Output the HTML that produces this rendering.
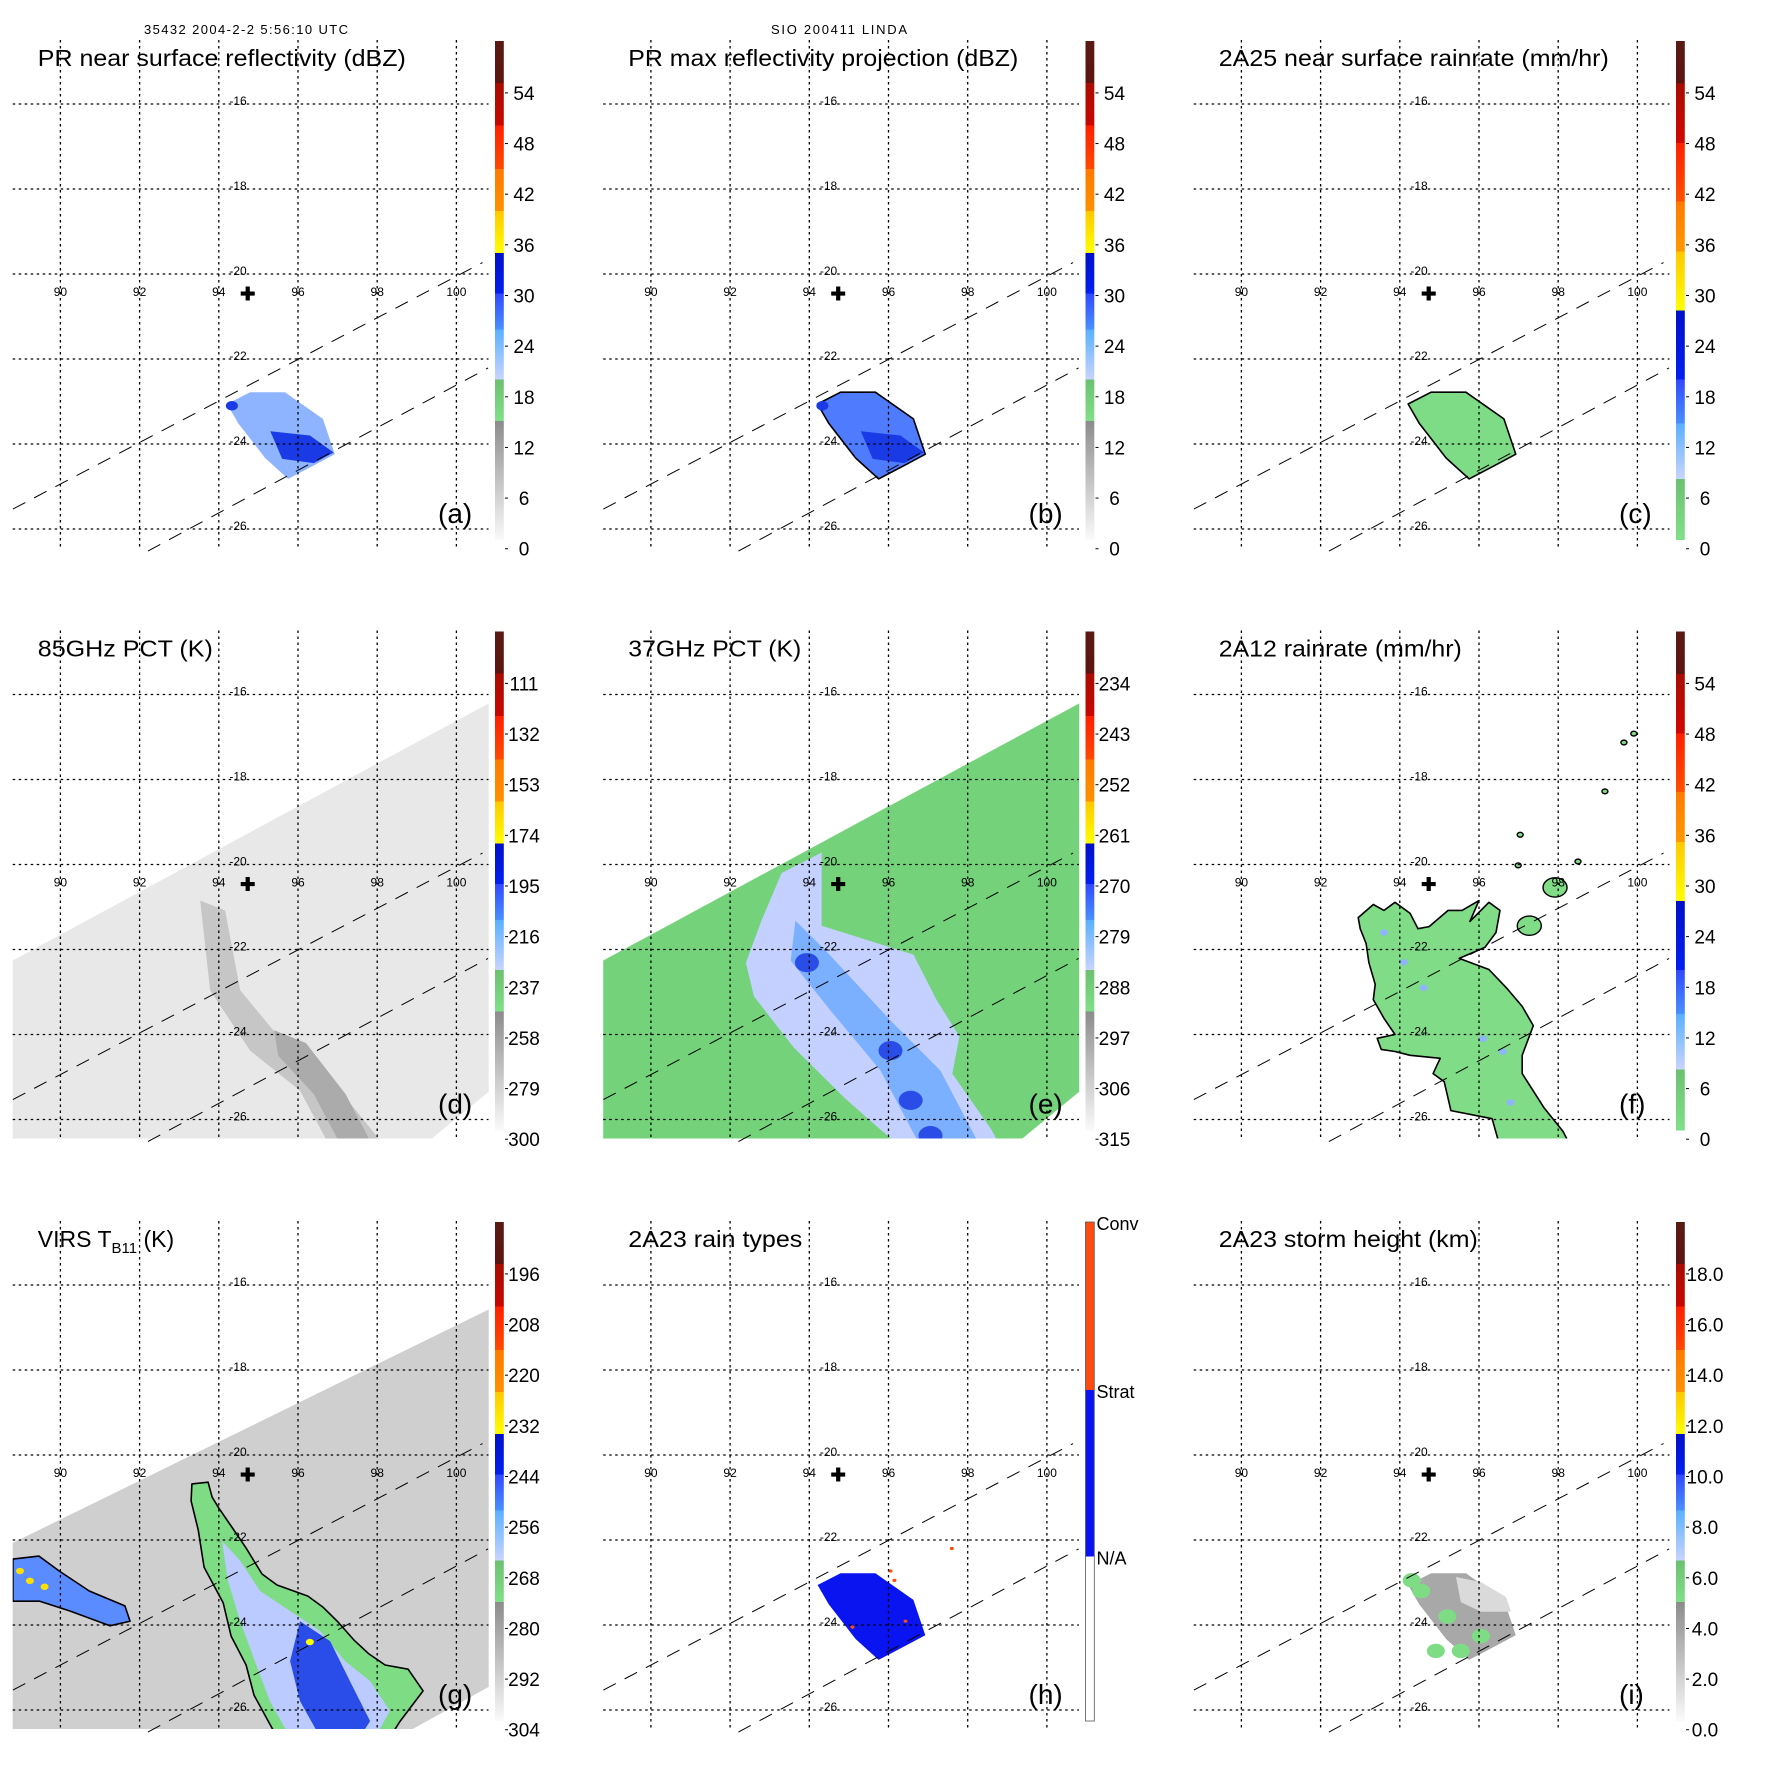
<!DOCTYPE html>
<html><head><meta charset="utf-8"><style>
html,body{margin:0;padding:0;background:#fff;}
svg{display:block;font-family:"Liberation Sans",Arial,sans-serif;}
</style></head><body>
<svg id="fig" width="1771" height="1771" viewBox="0 0 1771 1771" xmlns="http://www.w3.org/2000/svg">
<defs>
<linearGradient id="cbA" x1="0" y1="0" x2="0" y2="1">
<stop offset="0" stop-color="#5a1a14"/><stop offset="0.084" stop-color="#5c1410"/>
<stop offset="0.084" stop-color="#a80c00"/><stop offset="0.169" stop-color="#c80800"/>
<stop offset="0.169" stop-color="#ff2000"/><stop offset="0.257" stop-color="#ff4a00"/>
<stop offset="0.257" stop-color="#ff7a00"/><stop offset="0.341" stop-color="#ff9000"/>
<stop offset="0.341" stop-color="#ffc800"/><stop offset="0.425" stop-color="#ffff00"/>
<stop offset="0.425" stop-color="#0010c8"/><stop offset="0.506" stop-color="#0020f0"/>
<stop offset="0.506" stop-color="#3048ff"/><stop offset="0.578" stop-color="#4a90ff"/>
<stop offset="0.578" stop-color="#5ab0ff"/><stop offset="0.678" stop-color="#c8d4ff"/>
<stop offset="0.678" stop-color="#6cc070"/><stop offset="0.762" stop-color="#80e088"/>
<stop offset="0.762" stop-color="#8c8c8c"/><stop offset="1" stop-color="#fafafa"/>
</linearGradient>
<linearGradient id="cbC" x1="0" y1="0" x2="0" y2="1">
<stop offset="0" stop-color="#5a1a14"/><stop offset="0.085" stop-color="#5c1410"/>
<stop offset="0.085" stop-color="#a80c00"/><stop offset="0.204" stop-color="#d00800"/>
<stop offset="0.204" stop-color="#ff2000"/><stop offset="0.322" stop-color="#ff5000"/>
<stop offset="0.322" stop-color="#ff7a00"/><stop offset="0.422" stop-color="#ff9800"/>
<stop offset="0.422" stop-color="#ffc800"/><stop offset="0.54" stop-color="#ffff00"/>
<stop offset="0.54" stop-color="#0010c8"/><stop offset="0.678" stop-color="#0020f0"/>
<stop offset="0.678" stop-color="#3048ff"/><stop offset="0.767" stop-color="#4a90ff"/>
<stop offset="0.767" stop-color="#5ab0ff"/><stop offset="0.878" stop-color="#c8d4ff"/>
<stop offset="0.878" stop-color="#6cc070"/><stop offset="1" stop-color="#80e088"/>
</linearGradient>
<linearGradient id="cbH" x1="0" y1="0" x2="0" y2="1">
<stop offset="0" stop-color="#ff4a10"/><stop offset="0.337" stop-color="#ff4a10"/>
<stop offset="0.337" stop-color="#0a14f0"/><stop offset="0.67" stop-color="#0a14f0"/>
<stop offset="0.67" stop-color="#ffffff"/><stop offset="1" stop-color="#ffffff"/>
</linearGradient>
<clipPath id="plotclip"><rect x="12.7" y="40" width="476" height="508"/></clipPath>
</defs>
<text x="246" y="34" font-size="13" text-anchor="middle" textLength="204">35432 2004-2-2 5:56:10 UTC</text>
<text x="839" y="34" font-size="13" text-anchor="middle" textLength="136">SIO 200411 LINDA</text>
</svg>
<script>
// ---- axis ticks ----
const lonTicks = [90, 92, 94, 96, 98, 100];
const latTicks = [-16, -18, -20, -22, -24, -26];
// ---- colorbar labels ----
const cbLabelsA = ["54","48","42","36","30","24","18","12","6","0"];
const cbLabelsC = ["54","48","42","36","30","24","18","12","6","0"];
const cbLabelsD = ["111","132","153","174","195","216","237","258","279","300"];
const cbLabelsE = ["234","243","252","261","270","279","288","297","306","315"];
const cbLabelsG = ["196","208","220","232","244","256","268","280","292","304"];
const cbLabelsH = ["Conv","Strat","N/A"];
const cbLabelsI = ["18.0","16.0","14.0","12.0","10.0","8.0","6.0","4.0","2.0","0.0"];
// ---- map features (lon, lat) ----
const swathUpper = [[88.8,-25.53],[100.66,-19.73]];
const swathLower = [[92.21,-26.52],[100.8,-22.21]];
const stormCenter = [94.73,-20.46];
// ---- PR rain area ----
const prRain = [[94.21,-23.06],[94.79,-22.78],[95.67,-22.78],[96.63,-23.41],[96.93,-24.24],[96.43,-24.49],[95.75,-24.82],[95.17,-24.33],[94.49,-23.51]];
const prCore = [[95.3,-23.7],[96.3,-23.8],[96.9,-24.2],[96.4,-24.45],[95.6,-24.35]];
const prSpot = [[94.33,-23.1]];
// ---- 85GHz ----
const tmiSwathD = [[88.79,-22.26],[100.85,-16.19],[100.85,-25.32],[99.13,-26.64],[88.79,-26.64]];
const pct85Band = [[93.53,-20.85],[94.16,-21.08],[94.54,-22.96],[95.8,-24.38],[97.06,-25.32],[98.2,-26.64],[96.81,-26.64],[96.05,-25.32],[94.79,-24.38],[93.78,-22.96]];
const pct85Core = [[95.4,-23.9],[96.2,-24.2],[97.2,-25.4],[97.9,-26.64],[97.1,-26.64],[96.4,-25.4],[95.5,-24.5]];
// ---- 37GHz ----
const pct37Light = [[93.3,-20.2],[94.31,-19.72],[94.31,-21.44],[96.63,-22.12],[97.21,-23.18],[97.79,-24.05],[97.61,-24.92],[98.6,-26.24],[98.83,-26.64],[96.3,-26.64],[95.8,-26.24],[94.9,-25.5],[93.6,-24.3],[92.6,-23.1],[92.4,-22.31],[92.8,-21.3]];
const pct37Mid = [[93.65,-21.32],[94.41,-22.02],[96.05,-23.67],[97.31,-24.85],[98.32,-26.64],[96.81,-26.64],[95.8,-24.85],[94.54,-23.44],[93.53,-22.26]];
const pct37Dark = [[93.94,-22.31],[96.05,-24.38],[96.56,-25.55],[97.06,-26.38]];
// ---- 2A12 ----
const tmiRain = [[92.95,-21.25],[93.33,-20.94],[93.6,-21.08],[93.88,-20.89],[94.26,-21.15],[94.46,-21.51],[94.74,-21.46],[95.22,-21.08],[95.57,-21.08],[96.0,-20.85],[95.77,-21.34],[96.25,-20.89],[96.53,-21.08],[96.43,-21.6],[96.15,-21.95],[95.5,-22.21],[96.25,-22.47],[96.71,-22.92],[97.09,-23.34],[97.37,-23.79],[97.09,-24.49],[97.09,-24.92],[97.64,-25.72],[98.12,-26.28],[98.32,-26.64],[96.53,-26.64],[96.33,-25.98],[95.29,-25.79],[95.12,-25.11],[94.84,-24.92],[95.02,-24.56],[94.26,-24.49],[93.88,-24.4],[93.53,-24.35],[93.43,-24.09],[93.88,-24.0],[93.6,-23.62],[93.33,-23.18],[93.38,-22.82],[93.22,-22.31],[93.15,-21.86],[93.0,-21.51]];
const tmiIslands = [[97.92,-20.54],[97.27,-21.44]];
const tmiDots = [[99.91,-16.92],[99.66,-17.13],[99.18,-18.28],[97.04,-19.3],[96.99,-20.02],[98.5,-19.93]];
const tmiBlue = [[93.6,-21.6],[94.1,-22.3],[94.6,-22.9],[96.1,-24.1],[96.6,-24.4],[96.8,-25.6]];
// ---- VIRS ----
const virsSwath = [[88.79,-22.07],[100.85,-16.56],[100.85,-25.44],[98.58,-26.61],[88.79,-26.64]];
const virsGreen = [[93.32,-20.68],[93.73,-20.64],[93.83,-20.99],[94.0,-21.25],[94.31,-21.67],[94.69,-22.19],[95.09,-22.8],[95.47,-23.06],[96.25,-23.32],[96.63,-23.58],[97.01,-23.93],[97.41,-24.35],[97.79,-24.68],[98.2,-24.94],[98.78,-25.04],[99.16,-25.55],[98.58,-26.26],[98.32,-26.64],[95.47,-26.64],[94.89,-25.65],[94.69,-24.94],[94.31,-24.26],[94.11,-23.48],[93.63,-22.64],[93.48,-21.76],[93.3,-21.08]];
const virsLight = [[94.08,-22.02],[94.54,-22.49],[95.04,-23.2],[95.8,-23.67],[96.56,-24.14],[97.19,-24.85],[97.82,-25.32],[98.32,-26.02],[97.95,-26.64],[95.8,-26.64],[95.29,-25.79],[94.91,-24.85],[94.54,-23.91],[94.23,-22.96]];
const virsDark = [[96.05,-23.91],[96.81,-24.38],[97.31,-25.32],[97.82,-26.26],[97.56,-26.64],[96.56,-26.64],[96.05,-25.79],[95.8,-24.85]];
const virsYellow = [[96.3,-24.4]];
const virsWest = [[88.8,-22.45],[89.46,-22.38],[89.97,-22.73],[90.73,-23.2],[91.63,-23.55],[91.76,-23.91],[91.25,-24.02],[90.24,-23.67],[89.48,-23.44],[88.8,-23.44]];
const virsWestYellow = [[88.98,-22.73],[89.23,-22.96],[89.6,-23.1]];
// ---- 2A23 ----
const convDots = [[96.05,-22.73],[96.15,-22.95],[96.43,-23.91],[95.09,-24.05],[97.6,-22.2]];
const shLight = [[95.42,-22.87],[96.05,-22.99],[96.68,-23.34],[96.81,-23.69],[96.05,-23.69],[95.54,-23.46]];
const shGreen = [[94.54,-23.2],[96.05,-24.26],[95.54,-24.61],[94.91,-24.61],[94.3,-22.95],[95.2,-23.8]];

function X(lon){ return 60.4 + (lon - 90) * 39.6; }
function Y(lat){ return 104 + (-lat - 16) * 42.5; }
function pts(arr){ return arr.map(p => X(p[0]).toFixed(1) + ',' + Y(p[1]).toFixed(1)).join(' '); }

const NS = 'http://www.w3.org/2000/svg';
const svg = document.getElementById('fig');
function mk(tag, attrs, parent, text){
  const e = document.createElementNS(NS, tag);
  for (const k in attrs) e.setAttribute(k, attrs[k]);
  if (text !== undefined) e.textContent = text;
  parent.appendChild(e);
  return e;
}

const panels = [
  {key:'a', col:0,row:0, title:'PR near surface reflectivity (dBZ)', tw:368, cb:'cbA', labels:cbLabelsA},
  {key:'b', col:1,row:0, title:'PR max reflectivity projection (dBZ)', tw:390, cb:'cbA', labels:cbLabelsA},
  {key:'c', col:2,row:0, title:'2A25 near surface rainrate (mm/hr)', tw:390, cb:'cbC', labels:cbLabelsC},
  {key:'d', col:0,row:1, title:'85GHz PCT (K)', tw:175, cb:'cbA', labels:cbLabelsD},
  {key:'e', col:1,row:1, title:'37GHz PCT (K)', tw:173, cb:'cbA', labels:cbLabelsE},
  {key:'f', col:2,row:1, title:'2A12 rainrate (mm/hr)', tw:243, cb:'cbC', labels:cbLabelsC},
  {key:'g', col:0,row:2, title:'VIRS', tw:149, cb:'cbA', labels:cbLabelsG},
  {key:'h', col:1,row:2, title:'2A23 rain types', tw:174, cb:'cbH', labels:cbLabelsH},
  {key:'i', col:2,row:2, title:'2A23 storm height (km)', tw:259, cb:'cbA', labels:cbLabelsI}
];

function poly(g, arr, fill, stroke, name){
  const p = mk('polygon', {points: pts(arr), fill: fill, stroke: stroke || 'none', 'stroke-width': 1.6, 'stroke-linejoin':'round'}, g);
  
  
  return p;
}
function dot(g, p, r, fill, name, stroke){
  const c = mk('ellipse', {cx: X(p[0]), cy: Y(p[1]), rx: r, ry: r * 0.8, fill: fill, stroke: stroke || 'none', 'stroke-width': 1.4}, g);
  
  
  return c;
}

function drawData(key, g){
  if (key === 'a') {
    poly(g, prRain, '#8fb4ff', null, 'rain-area');
    poly(g, prCore, '#1a3ae6', null, 'rain-core');
    dot(g, prSpot[0], 6, '#1a3ae6', 'rain-spot');
  } else if (key === 'b') {
    poly(g, prRain, '#4f7bff', '#000', 'rain-area');
    poly(g, prCore, '#1a3ae6', null, 'rain-core');
    dot(g, prSpot[0], 6, '#1a3ae6', 'rain-spot');
  } else if (key === 'c') {
    poly(g, prRain, '#7fdc86', '#000', 'rain-area');
  } else if (key === 'd') {
    poly(g, tmiSwathD, '#e8e8e8', null, 'tmi-swath');
    poly(g, pct85Band, '#c6c6c6', null, 'pct-band');
    poly(g, pct85Core, '#ababab', null, 'pct-core');
  } else if (key === 'e') {
    poly(g, tmiSwathD, '#74d37a', null, 'tmi-swath');
    poly(g, pct37Light, '#c4d0ff', null, 'pct-light');
    poly(g, pct37Mid, '#7ab0ff', null, 'pct-mid');
    pct37Dark.forEach(p => dot(g, p, 12, '#2a4de8', 'pct-dark'));
  } else if (key === 'f') {
    poly(g, tmiRain, '#80dc86', '#000', 'rain-area');
    tmiIslands.forEach(p => dot(g, p, 12, '#80dc86', 'rain-island', '#000'));
    tmiDots.forEach(p => dot(g, p, 3, '#80dc86', 'rain-dot', '#000'));
    tmiBlue.forEach(p => dot(g, p, 4, '#8fb4ff', 'rain-heavy'));
  } else if (key === 'g') {
    poly(g, virsSwath, '#cfcfcf', null, 'virs-swath');
    poly(g, virsWest, '#5a8cff', '#000', 'cloud-west');
    virsWestYellow.forEach(p => dot(g, p, 4, '#ffe000', 'cloud-west-cold'));
    poly(g, virsGreen, '#7edc84', '#000', 'cloud-band');
    poly(g, virsLight, '#bccbff', null, 'cloud-light');
    poly(g, virsDark, '#2a4ce8', null, 'cloud-core');
    virsYellow.forEach(p => dot(g, p, 4, '#ffff00', 'cloud-top'));
  } else if (key === 'h') {
    poly(g, prRain, '#0a14f0', null, 'stratiform-area');
    convDots.forEach(p => dot(g, p, 2, '#ff4a10', 'convective-pixel'));
  } else if (key === 'i') {
    poly(g, prRain, '#a8a8a8', null, 'storm-height-area');
    poly(g, shLight, '#dadada', null, 'storm-height-low');
    shGreen.forEach(p => dot(g, p, 9, '#7edc84', 'storm-height-high'));
  }
}

const pitch = 590.5;
panels.forEach(P => {
  const ox = P.col * pitch, oy = P.row * pitch;
  const g = mk('g', {transform: `translate(${ox},${oy})`}, svg);
  
  
  const bottom = 550;

  const dg = mk('g', {'clip-path': 'url(#plotclip)'}, g);
  
  
  drawData(P.key, dg);

  lonTicks.forEach(lon => {
    const l = mk('line', {x1: X(lon), x2: X(lon), y1: 40, y2: bottom, stroke: '#000', 'stroke-width': 1.3, 'stroke-dasharray': '2.5,3.5'}, g);
    
    
    const t = mk('text', {x: X(lon), y: 296, 'font-size': 12, 'text-anchor': 'middle'}, g, String(lon));
    
    
  });
  latTicks.forEach(lat => {
    const l = mk('line', {x1: 12.7, x2: 488.5, y1: Y(lat), y2: Y(lat), stroke: '#000', 'stroke-width': 1.3, 'stroke-dasharray': '2.5,3.5'}, g);
    
    
    const t = mk('text', {x: 238, y: Y(lat) + 1, 'font-size': 12, 'text-anchor': 'middle'}, g, String(lat));
    
    
  });
  [swathUpper, swathLower].forEach((s, i) => {
    const l = mk('line', {x1: X(s[0][0]), y1: Y(s[0][1]), x2: X(s[1][0]), y2: Y(s[1][1]), stroke: '#000', 'stroke-width': 1, 'stroke-dasharray': '14,10'}, g);
    
    
  });
  const cx = X(stormCenter[0]), cy = Y(stormCenter[1]);
  const cr = mk('path', {d: `M${cx-7},${cy}H${cx+7}M${cx},${cy-7}V${cy+7}`, stroke: '#000', 'stroke-width': 4.2}, g);
  
  

  let tt;
  if (P.key === 'g') {
    tt = mk('text', {x: 37.8, y: 66, 'font-size': 23}, g);
    mk('tspan', {}, tt, 'VIRS T');
    mk('tspan', {'font-size': 15, dy: 6}, tt, 'B11');
    mk('tspan', {dy: -6}, tt, ' (K)');
  } else {
    tt = mk('text', {x: 37.8, y: 66, 'font-size': 23, textLength: P.tw, lengthAdjust: 'spacingAndGlyphs'}, g, P.title);
  }
  
  

  const pl = mk('text', {x: 438, y: 523, 'font-size': 28}, g, '(' + P.key + ')');
  
  

  const cbTop = 41, cbH = 499;
  const bar = mk('rect', {x: 495, y: cbTop, width: 8.8, height: cbH, fill: `url(#${P.cb})`, stroke: P.cb === 'cbH' ? '#555' : 'none', 'stroke-width': 0.8}, g);
  
  
  if (P.cb === 'cbH') {
    const fr = [0.0, 0.337, 0.67];
    P.labels.forEach((lab, i) => {
      const t = mk('text', {x: 506, y: cbTop + fr[i] * cbH + 8, 'font-size': 18}, g, lab);
      
      
    });
  } else {
    P.labels.forEach((lab, i) => {
      const yy = cbTop + (0.104 + 0.1015 * i) * cbH;
      const tk = mk('line', {x1: 505, x2: 508, y1: yy, y2: yy, stroke: '#000', 'stroke-width': 1}, g);
      
      
      const t = mk('text', {x: 524, y: yy + 7, 'font-size': 19, 'text-anchor': 'middle'}, g, lab);
      
      
    });
  }
});
</script>
</body></html>
